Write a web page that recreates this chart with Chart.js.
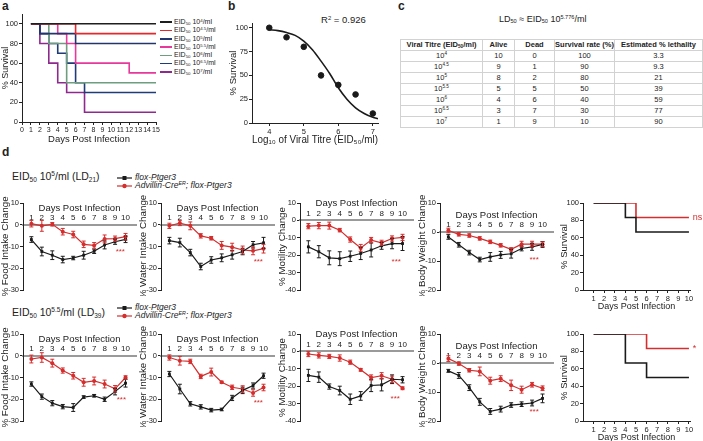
<!DOCTYPE html>
<html>
<head>
<meta charset="utf-8">
<script src="https://cdn.jsdelivr.net/npm/chart.js@4.4.1/dist/chart.umd.min.js"></script>
<style>
body { margin: 0; background: #fff; }
#fig { position: relative; width: 703px; height: 441px; overflow: hidden; font-family: 'Liberation Sans', Arial, sans-serif; color: #222; }
#fig canvas { position: absolute; }
.lbl { position: absolute; white-space: nowrap; line-height: 1.2; }
.pl { font-weight: bold; font-size: 12px; }
sup, sub { font-size: 62%; line-height: 0; }
sub { vertical-align: -0.25em; }
sup { vertical-align: 0.55em; }
#tbl { position: absolute; left: 400px; top: 39px; width: 302px; border-collapse: collapse; font-size: 7.5px; table-layout: fixed; }
#tbl td, #tbl th { border: 1px solid #d2d2d2; height: 10px; line-height: 10px; padding: 0; text-align: center; }
#tbl th { font-weight: bold; }
.leg { position: absolute; font-size: 8.5px; }
.leg div { height: 8px; line-height: 8px; white-space: nowrap; }
.leg svg { vertical-align: middle; margin-right: 3px; }
.lega { position: absolute; font-size: 7px; }
.lega div { height: 8.3px; line-height: 8.3px; white-space: nowrap; }
.lega span.sw { display: inline-block; width: 12px; height: 1.6px; vertical-align: middle; margin-right: 2px; }
</style>
</head>
<body>
<div id="fig">
  <div class="lbl pl" style="left:2px;top:-1px">a</div>
  <div class="lbl pl" style="left:228px;top:-1px">b</div>
  <div class="lbl pl" style="left:398px;top:-1px">c</div>
  <div class="lbl pl" style="left:2px;top:145px">d</div>
  <div class="lega" id="legA" style="left:160px;top:18px"></div>
  <div class="lbl" style="left:321px;top:14px;font-size:9.5px">R<sup>2</sup> = 0.926</div>
  <div class="lbl" style="left:499px;top:14px;font-size:9px">LD<sub>50</sub> ≈ EID<sub>50</sub> 10<sup>5.776</sup>/ml</div>
  <table id="tbl">
    <colgroup><col style="width:82px"><col style="width:32px"><col style="width:40px"><col style="width:60px"><col style="width:88px"></colgroup>
    <tbody id="tbody"></tbody>
  </table>
  <div class="lbl" style="left:12px;top:170px;font-size:10.5px">EID<sub>50</sub> 10<sup>5</sup>/ml (LD<sub>21</sub>)</div>
  <div class="lbl" style="left:12px;top:306px;font-size:10.5px">EID<sub>50</sub> 10<sup>5.5</sup>/ml (LD<sub>39</sub>)</div>
  <div class="leg" id="legD1" style="left:117px;top:173px"></div>
  <div class="leg" id="legD2" style="left:117px;top:303px"></div>
</div>
<script>
// ---- data ----
const titreExp = ['4', '4.5', '5', '5.5', '6', '6.5', '7'];
const logTitre = [4, 4.5, 5, 5.5, 6, 6.5, 7];
const alive = [10, 9, 8, 5, 4, 3, 1];
const dead = [0, 1, 2, 5, 6, 7, 9];
const survivalRate = [100, 90, 80, 50, 40, 30, 10];
const lethality = [3.3, 9.3, 21, 39, 59, 77, 90];

// fitted curve in b
const fitX = [4, 4.25, 4.5, 4.75, 5, 5.25, 5.5, 5.75, 6, 6.25, 6.5, 6.75, 7, 7.15];
const fitY = [98, 97, 95, 92, 86, 77, 65, 52, 37, 25, 16, 10, 6, 4.5];

// a: survival steps per dose (day of change, % survival)
const kmDays = [[1, 15], [1, 6, 15], [1, 2, 6, 15], [1, 4, 5, 6, 12, 15], [1, 3, 5, 15], [1, 2, 3, 4, 5, 6, 7, 15], [1, 2, 3, 4, 5, 7, 15]];
const kmSurv = [[100, 100], [100, 90, 90], [100, 90, 80, 80], [100, 90, 80, 60, 50, 50], [100, 80, 40, 40], [100, 90, 80, 70, 60, 40, 30, 30], [100, 80, 60, 40, 30, 10, 10]];
const kmColors = ['#1e1e1e', '#e8262b', '#23346e', '#e6399b', '#6e9d80', '#1f3b78', '#8e2a8e'];
const daysA = [0, 1, 2, 3, 4, 5, 6, 7, 8, 9, 10, 11, 12, 13, 14, 15];

// d
const days = [1, 2, 3, 4, 5, 6, 7, 8, 9, 10];
// LD21
const food21Ctl = [-6.8, -12.3, -14, -16, -15.3, -14, -12.2, -9.3, -7.8, -6.7];
const food21CtlErr = [1.3, 2, 2, 1.5, 0.8, 1.8, 1, 1.8, 1.2, 1.5];
const food21Adv = [0.5, -0.5, 0.2, -3.2, -4.5, -9, -9.5, -6.5, -6.4, -5.5];
const food21AdvErr = [1.5, 2.5, 0.8, 1.5, 1.5, 1.5, 1.3, 1.8, 1.2, 1.5];
const water21Ctl = [-7.3, -8.2, -12.8, -19.2, -16.2, -15.2, -13.8, -12.3, -9.2, -8.3];
const water21CtlErr = [1.5, 2, 1.5, 1.5, 1.5, 1.8, 2, 1.5, 1.5, 2.5];
const water21Adv = [-0.5, 0.8, -0.5, -5.1, -6.2, -9.5, -10.3, -11.6, -12, -11];
const water21AdvErr = [1.2, 1.2, 1.8, 1, 0.8, 1.8, 1.8, 1.8, 1.8, 2];
const mot21Ctl = [-15.2, -18, -21.5, -22, -20.6, -19, -17, -14.6, -13.3, -13.3];
const mot21CtlErr = [3.5, 3.5, 4, 4, 3, 3.5, 4, 2, 3, 4];
const mot21Adv = [-3.3, -3, -3, -5.6, -11, -15.8, -11.3, -12.9, -10.4, -9.8];
const mot21AdvErr = [1.5, 1.8, 2, 1, 1.5, 2, 1.5, 1.5, 1.5, 1.8];
const bw21Ctl = [-1.7, -4.4, -7.1, -9.5, -8.6, -7.9, -7.5, -5.7, -5.1, -4.3];
const bw21CtlErr = [0.8, 0.8, 0.8, 0.8, 1.5, 1.2, 1.5, 0.8, 1.2, 1];
const bw21Adv = [0.5, -0.8, -1.2, -2.2, -3.4, -4.6, -6, -4.2, -4.2, -4.2];
const bw21AdvErr = [0.8, 0.6, 0.6, 0.6, 0.6, 0.6, 0.6, 1, 1, 0.8];
const surv21CtlDays = [1, 4, 5, 10];
const surv21Ctl = [100, 83.3, 66.7, 66.7];
const surv21AdvDays = [1, 5, 10];
const surv21Adv = [100, 83.3, 83.3];
// LD39
const food39Ctl = [-13, -18.8, -21.8, -23.4, -23.8, -19, -18.4, -20, -16.5, -12.6];
const food39CtlErr = [1, 1.2, 1.2, 1, 1.8, 0.6, 0.6, 1, 1.5, 1.8];
const food39Adv = [-1.5, -0.8, -3.4, -6.8, -9.2, -12.2, -11.6, -13, -15.2, -10];
const food39AdvErr = [1.8, 2.2, 1.8, 1.2, 1.5, 1.8, 1.8, 1.8, 1.5, 0.8];
const water39Ctl = [-8.4, -15.3, -22.1, -23.5, -25, -24.7, -19.4, -15.9, -13.7, -9.2];
const water39CtlErr = [1.2, 2.2, 1, 1, 0.8, 0.6, 1.2, 1.5, 1.2, 1.2];
const water39Adv = [-0.8, -2.3, -2.6, -9.5, -7.5, -12.2, -14.5, -15.3, -17.1, -14.6];
const water39AdvErr = [1.2, 2, 1, 1, 1.8, 0.5, 1, 1.5, 1.5, 1.5];
const mot39Ctl = [-13.8, -14.8, -20.2, -22.5, -27.5, -25.6, -19.6, -19.2, -16, -16.3];
const mot39CtlErr = [3.5, 3, 1.5, 2.5, 3, 2.5, 3.5, 3.5, 2.5, 1.8];
const mot39Adv = [-1.5, -2.3, -2.9, -3.8, -6.2, -10.6, -15, -14, -16, -21.2];
const mot39AdvErr = [1.5, 1.5, 1.2, 1.8, 1.2, 0.8, 1.5, 1.8, 1.8, 0.8];
const bw39Ctl = [-2.7, -4.3, -8.5, -13.4, -16.7, -15.9, -14.5, -14.2, -13.8, -12.2];
const bw39CtlErr = [0.5, 1, 1, 1.2, 1, 1, 0.8, 0.8, 1, 1.5];
const bw39Adv = [1.5, -0.2, -2.5, -2.9, -6.1, -5.4, -7.7, -9.2, -7.5, -8.7];
const bw39AdvErr = [1, 0.6, 0.6, 1.5, 1.2, 1, 1.8, 1.2, 0.8, 0.8];
const surv39CtlDays = [1, 4, 6, 10];
const surv39Ctl = [100, 66.7, 50, 50];
const surv39AdvDays = [1, 6, 10];
const surv39Adv = [100, 83.3, 83.3];

const BLACK = '#1a1a1a';
const RED = '#d42e2e';

Chart.defaults.font.family = "'Liberation Sans', Arial, sans-serif";
Chart.defaults.color = '#222';

const fig = document.getElementById('fig');
function addCanvas(left, top, w, h) {
    const c = document.createElement('canvas');
    c.width = w; c.height = h;
    c.style.left = left + 'px'; c.style.top = top + 'px';
    c.style.width = w + 'px'; c.style.height = h + 'px';
    fig.appendChild(c);
    return c;
}
function fixedTicks(vals) {
    return function (scale) { scale.ticks = vals.map(v => ({ value: v })); };
}
function pts(xs, ys) { return xs.map((x, i) => ({ x: x, y: ys[i] })); }

// error bars + small text marks (***, ns)
const errorBars = {
    id: 'errorBars',
    afterDatasetsDraw(chart) {
        const { ctx, scales: { x, y } } = chart;
        chart.data.datasets.forEach(ds => {
            if (!ds.errors) return;
            ctx.save();
            ctx.strokeStyle = ds.borderColor;
            ctx.lineWidth = 1;
            ds.data.forEach((p, i) => {
                const px = x.getPixelForValue(p.x);
                const t = y.getPixelForValue(p.y + ds.errors[i]);
                const b = y.getPixelForValue(p.y - ds.errors[i]);
                ctx.beginPath();
                ctx.moveTo(px, t); ctx.lineTo(px, b);
                ctx.moveTo(px - 2, t); ctx.lineTo(px + 2, t);
                ctx.moveTo(px - 2, b); ctx.lineTo(px + 2, b);
                ctx.stroke();
            });
            ctx.restore();
        });
    }
};
const marks = {
    id: 'marks',
    afterDatasetsDraw(chart) {
        const m = chart.config.options.marks;
        if (!m) return;
        const { ctx, scales: { x, y } } = chart;
        ctx.save();
        ctx.fillStyle = RED;
        ctx.font = m.size + "px 'Liberation Sans', Arial, sans-serif";
        ctx.textAlign = m.align || 'center';
        ctx.textBaseline = 'middle';
        ctx.fillText(m.text, x.getPixelForValue(m.x), y.getPixelForValue(m.y));
        ctx.restore();
    }
};

const noPlug = { legend: { display: false }, tooltip: { enabled: false } };
function yAxis(min, max, ticks, title, width, titleSize) {
    return {
        min: min, max: max,
        afterBuildTicks: fixedTicks(ticks),
        afterFit: s => { s.width = width; },
        grid: { drawOnChartArea: false, tickLength: 3, color: '#222' },
        border: { color: '#222', width: 1 },
        ticks: { font: { size: 7.5 }, padding: 1 },
        title: { display: true, text: title, font: { size: titleSize || 9 }, padding: 0 }
    };
}

// ---- a ----
new Chart(addCanvas(0, 0, 162, 145), {
    type: 'line',
    data: {
        datasets: kmDays.map((d, i) => ({
            data: pts(d, kmSurv[i]), borderColor: kmColors[i], borderWidth: 1.6,
            pointRadius: 0, stepped: 'before', fill: false
        }))
    },
    options: {
        responsive: false, animation: false,
        layout: { padding: { top: 14, right: 6 } },
        plugins: noPlug,
        scales: {
            x: {
                type: 'linear', min: 0, max: 15,
                afterBuildTicks: fixedTicks(daysA),
                afterFit: s => { s.height = 23; },
                grid: { drawOnChartArea: false, tickLength: 3, color: '#222' },
                border: { color: '#222' },
                ticks: { font: { size: 7 }, padding: 1, autoSkip: false, maxRotation: 0 },
                title: { display: true, text: 'Days Post Infection', font: { size: 9.5 }, padding: 0 }
            },
            y: yAxis(0, 110, [0, 20, 40, 60, 80, 100], '% Survival', 22)
        }
    }
});
const legA = document.getElementById('legA');
titreExp.forEach((e, i) => {
    legA.innerHTML += '<div><span class="sw" style="background:' + kmColors[i] + '"></span>EID<sub>50</sub> 10<sup>' + e + '</sup>/ml</div>';
});

// ---- b ----
new Chart(addCanvas(228, 10, 155, 140), {
    type: 'line',
    data: {
        datasets: [
            { data: pts(logTitre, survivalRate), showLine: false, pointRadius: 2.8, pointBackgroundColor: BLACK, pointBorderColor: BLACK },
            { data: pts(fitX, fitY), borderColor: BLACK, borderWidth: 1.6, pointRadius: 0, cubicInterpolationMode: 'monotone' }
        ]
    },
    options: {
        responsive: false, animation: false,
        layout: { padding: { top: 13, right: 5 } },
        plugins: noPlug,
        scales: {
            x: {
                type: 'linear', min: 3.5, max: 7.15,
                afterBuildTicks: fixedTicks([4, 5, 6, 7]),
                afterFit: s => { s.height = 27; },
                grid: { drawOnChartArea: false, tickLength: 3, color: '#222' },
                border: { color: '#222' },
                ticks: { font: { size: 7.5 }, padding: 1 },
                title: { display: true, text: 'Log₁₀ of Viral Titre (EID₅₀/ml)', font: { size: 10 }, padding: { top: 2 } }
            },
            y: yAxis(0, 105, [0, 25, 50, 75, 100], '% Survival', 24, 9.5)
        }
    }
});

// ---- c ----
let rows = '<tr><th>Viral Titre (EID<sub>50</sub>/ml)</th><th>Alive</th><th>Dead</th><th>Survival rate (%)</th><th>Estimated % lethality</th></tr>';
titreExp.forEach((e, i) => {
    rows += '<tr><td>10<sup>' + e + '</sup></td><td>' + alive[i] + '</td><td>' + dead[i] + '</td><td>' +
        survivalRate[i] + '</td><td>' + lethality[i] + '</td></tr>';
});
document.getElementById('tbody').innerHTML = rows;

// ---- d ----
function series(ys, errs, color, style) {
    return {
        data: pts(days, ys), errors: errs, borderColor: color, backgroundColor: color,
        borderWidth: 1.2, pointRadius: 2, pointStyle: style, pointBorderWidth: 0, fill: false
    };
}
function changeChart(ax, top, bottom, yMin, yMax, title, ctl, ctlErr, adv, advErr, star) {
    const ticks = [];
    for (let v = yMin; v <= yMax; v += 10) ticks.push(v);
    new Chart(addCanvas(ax - 24, top - 8, 141, bottom - top + 14), {
        type: 'line',
        data: { datasets: [series(ctl, ctlErr, BLACK, 'rect'), series(adv, advErr, RED, 'circle')] },
        options: {
            responsive: false, animation: false,
            layout: { padding: { top: 8, bottom: 6, right: 2 } },
            plugins: noPlug,
            marks: { x: star[0], y: star[1], text: '***', size: 8 },
            scales: {
                x: {
                    type: 'linear', position: { y: 0 }, min: 0.2, max: 11,
                    afterBuildTicks: fixedTicks(days),
                    afterFit: s => { s.height = 0; },
                    grid: { display: false, drawTicks: false },
                    border: { color: '#9a9a9a', width: 2 },
                    ticks: { mirror: true, padding: -2, font: { size: 8 }, autoSkip: false, maxRotation: 0 },
                    title: { display: true, text: 'Days Post Infection', font: { size: 9.5 }, padding: { top: 0, bottom: 11 } }
                },
                y: yAxis(yMin, yMax, ticks, title, 24, 9.8)
            }
        },
        plugins: [errorBars, marks]
    });
}
function survChart(top, bottom, ctlDays, ctl, advDays, adv, mark) {
    new Chart(addCanvas(559, top - 8, 144, bottom - top + 30), {
        type: 'line',
        data: {
            datasets: [
                { data: pts(ctlDays, ctl), borderColor: BLACK, borderWidth: 1.6, pointRadius: 0, stepped: 'before' },
                { data: pts(advDays, adv), borderColor: RED, borderWidth: 1.6, pointRadius: 0, stepped: 'before' }
            ]
        },
        options: {
            responsive: false, animation: false,
            layout: { padding: { top: 8, right: 13 } },
            plugins: noPlug,
            marks: { x: 10.35, y: 83.3, text: mark, size: 9, align: 'left' },
            scales: {
                x: {
                    type: 'linear', min: 0, max: 10.1,
                    afterBuildTicks: fixedTicks(days),
                    afterFit: s => { s.height = 22; },
                    grid: { drawOnChartArea: false, tickLength: 3, color: '#222' },
                    border: { color: '#222' },
                    ticks: { font: { size: 7.5 }, padding: 1, autoSkip: false, maxRotation: 0 },
                    title: { display: true, text: 'Days Post Infection', font: { size: 9 }, padding: 0 }
                },
                y: yAxis(0, 100, [0, 20, 40, 60, 80, 100], '% Survival', 24, 9.5)
            }
        },
        plugins: [marks]
    });
}

const axX = [23, 161, 300, 440];
changeChart(axX[0], 203, 290, -30, 10, '% Food Intake Change', food21Ctl, food21CtlErr, food21Adv, food21AdvErr, [9.5, -12.5]);
changeChart(axX[1], 203, 290, -30, 10, '% Water Intake Change', water21Ctl, water21CtlErr, water21Adv, water21AdvErr, [9.5, -17]);
changeChart(axX[2], 203, 290, -40, 10, '% Motility Change', mot21Ctl, mot21CtlErr, mot21Adv, mot21AdvErr, [9.4, -23.6]);
changeChart(axX[3], 203, 290, -20, 10, '% Body Weight Change', bw21Ctl, bw21CtlErr, bw21Adv, bw21AdvErr, [9.2, -9.7]);
survChart(203, 290, surv21CtlDays, surv21Ctl, surv21AdvDays, surv21Adv, 'ns');

changeChart(axX[0], 334, 421, -30, 10, '% Food Intake Change', food39Ctl, food39CtlErr, food39Adv, food39AdvErr, [9.6, -20.3]);
changeChart(axX[1], 334, 421, -30, 10, '% Water Intake Change', water39Ctl, water39CtlErr, water39Adv, water39AdvErr, [9.5, -21.5]);
changeChart(axX[2], 334, 421, -40, 10, '% Motility Change', mot39Ctl, mot39CtlErr, mot39Adv, mot39AdvErr, [9.3, -27.2]);
changeChart(axX[3], 334, 421, -20, 10, '% Body Weight Change', bw39Ctl, bw39CtlErr, bw39Adv, bw39AdvErr, [9.2, -16.8]);
survChart(334, 421, surv39CtlDays, surv39Ctl, surv39AdvDays, surv39Adv, '*');

// legends for d
function legD(id) {
    const el = document.getElementById(id);
    el.innerHTML =
        '<div><svg width="15" height="6"><line x1="0" y1="3" x2="15" y2="3" stroke="' + BLACK + '" stroke-width="1.2"/><rect x="5.5" y="1" width="4" height="4" fill="' + BLACK + '"/></svg><i>flox-Ptger3</i></div>' +
        '<div><svg width="15" height="6"><line x1="0" y1="3" x2="15" y2="3" stroke="' + RED + '" stroke-width="1.2"/><circle cx="7.5" cy="3" r="2.2" fill="' + RED + '"/></svg><i>Advillin-Cre<sup>ER</sup>; flox-Ptger3</i></div>';
}
legD('legD1');
legD('legD2');
</script>
</body>
</html>
